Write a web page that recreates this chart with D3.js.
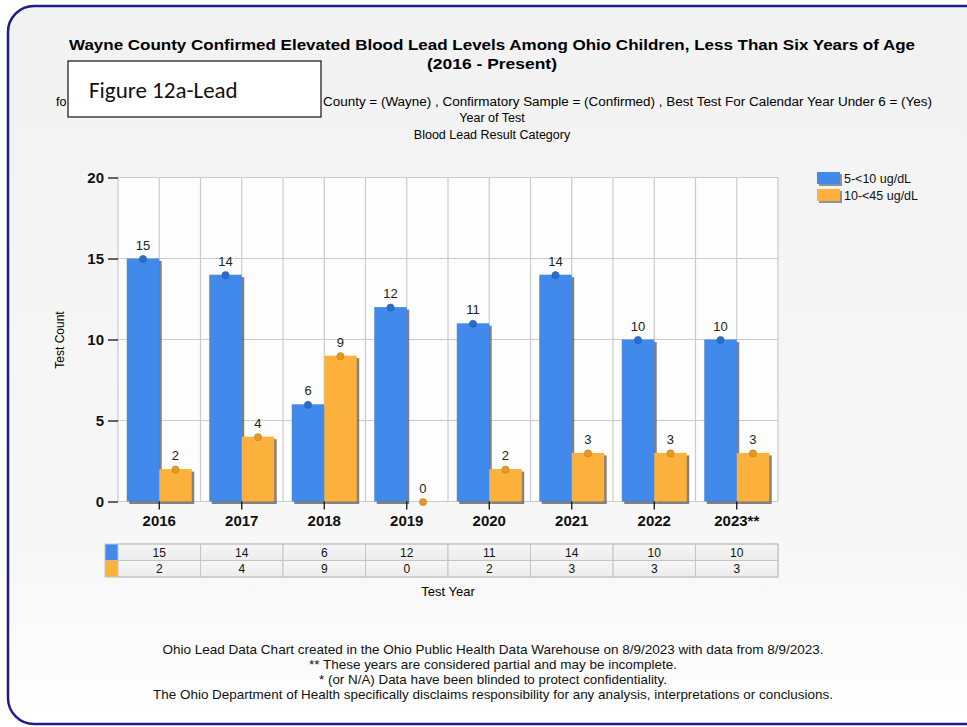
<!DOCTYPE html>
<html><head><meta charset="utf-8">
<script src="https://cdn.jsdelivr.net/npm/d3@7"></script>
<style>body{margin:0;background:#fff;} svg{display:block;font-family:"Liberation Sans",Arial,sans-serif;}</style>
</head><body>
<svg id="c" width="967" height="727"></svg>
<script>
const years = ["2016","2017","2018","2019","2020","2021","2022","2023**"];
const seriesNames = ["5-<10 ug/dL","10-<45 ug/dL"];
const low = [15,14,6,12,11,14,10,10];
const high = [2,4,9,0,2,3,3,3];
const yTicks = [0,5,10,15,20];
const colors = ["#4189ea","#fbb13c"];
const dotColors = ["#2c6bc9","#e39a25"];

const svg = d3.select("#c");
const defs = svg.append("defs");
const bg = defs.append("linearGradient").attr("id","bg").attr("x1",0).attr("y1",0).attr("x2",0).attr("y2",1);
bg.append("stop").attr("offset","0").attr("stop-color","#f2f2f2");
bg.append("stop").attr("offset","0.8").attr("stop-color","#f8f8f8");
bg.append("stop").attr("offset","1").attr("stop-color","#ffffff");
const cell = defs.append("linearGradient").attr("id","cell").attr("x1",0).attr("y1",0).attr("x2",0).attr("y2",1);
cell.append("stop").attr("offset","0").attr("stop-color","#f7f7f7");
cell.append("stop").attr("offset","1").attr("stop-color","#ececec");

// frame
svg.append("rect").attr("x",8).attr("y",6).attr("width",1000).attr("height",718).attr("rx",26)
  .attr("fill","url(#bg)").attr("stroke","#1c1c8a").attr("stroke-width",2.5);

// titles
svg.append("text").attr("x",492).attr("y",50).attr("text-anchor","middle").attr("font-weight","bold")
  .attr("font-size",15.5).attr("textLength",846).attr("lengthAdjust","spacingAndGlyphs")
  .text("Wayne County Confirmed Elevated Blood Lead Levels Among Ohio Children, Less Than Six Years of Age");
svg.append("text").attr("x",492).attr("y",69).attr("text-anchor","middle").attr("font-weight","bold")
  .attr("font-size",15.5).attr("textLength",130).attr("lengthAdjust","spacingAndGlyphs").text("(2016 - Present)");
svg.append("text").attr("x",56).attr("y",106).attr("font-size",12.5).text("fo");
svg.append("text").attr("x",323).attr("y",106).attr("font-size",12.5)
  .attr("textLength",609).attr("lengthAdjust","spacingAndGlyphs")
  .text("County = (Wayne) , Confirmatory Sample = (Confirmed) , Best Test For Calendar Year Under 6 = (Yes)");
svg.append("text").attr("x",492).attr("y",122).attr("text-anchor","middle").attr("font-size",12.5).text("Year of Test");
svg.append("text").attr("x",492).attr("y",139).attr("text-anchor","middle").attr("font-size",12.5).text("Blood Lead Result Category");

// plot
const x0 = 118, x1 = 778, yTop = 177.5, yBot = 501.5;
const x = d3.scaleBand().domain(years).range([x0,x1]).paddingInner(0).paddingOuter(0);
const xs = d3.scaleBand().domain([0,1]).range([0,x.bandwidth()]).paddingOuter(0.27).paddingInner(0);
const y = d3.scaleLinear().domain([0,20]).range([yBot,yTop]);

svg.append("rect").attr("x",x0).attr("y",yTop).attr("width",x1-x0).attr("height",yBot-yTop).attr("fill","#fdfdfd");
const grid = svg.append("g").attr("stroke","#cacaca").attr("stroke-width",1.2);
yTicks.forEach(t=>grid.append("line").attr("x1",x0).attr("x2",x1).attr("y1",y(t)).attr("y2",y(t)));
years.forEach(yr=>{
  const a = x(yr);
  grid.append("line").attr("x1",a).attr("x2",a).attr("y1",yTop).attr("y2",yBot);
  grid.append("line").attr("x1",a+x.bandwidth()/2).attr("x2",a+x.bandwidth()/2).attr("y1",yTop).attr("y2",yBot);
});
grid.append("line").attr("x1",x1).attr("x2",x1).attr("y1",yTop).attr("y2",yBot);

// y axis
const yAxis = d3.axisLeft(y).tickValues(yTicks).tickSize(10).tickPadding(4);
const ya = svg.append("g").attr("transform",`translate(${x0},0)`).call(yAxis);
ya.select(".domain").remove();
ya.selectAll("text").attr("font-size",15).attr("font-weight","bold").attr("fill","#111").attr("font-family","Liberation Sans, Arial");
ya.selectAll("line").attr("stroke","#111").attr("stroke-width",1.3);
svg.append("text").attr("transform","translate(64,340) rotate(-90)").attr("text-anchor","middle")
  .attr("font-size",12).text("Test Count");

// bars
const data = [low, high];
data.forEach((vals,si)=>{
  const g = svg.append("g");
  years.forEach((yr,i)=>{
    const v = vals[i];
    const bx = x(yr)+xs(si), bw = xs.bandwidth();
    if (v>0){
      g.append("rect").attr("x",bx+2.5).attr("y",y(v)+2.5).attr("width",bw).attr("height",yBot-y(v))
        .attr("fill","#5a5a5a").attr("opacity",0.75);
      g.append("rect").attr("x",bx).attr("y",y(v)).attr("width",bw).attr("height",yBot-y(v))
        .attr("fill",colors[si]);
    }
    const cx = bx+bw/2;
    g.append("circle").attr("cx",cx).attr("cy",y(v)+0.5).attr("r",3.6).attr("fill",dotColors[si])
      .attr("stroke",d3.color(dotColors[si]).darker(0.5)).attr("stroke-width",0.6);
    g.append("text").attr("x",cx).attr("y",y(v)-9).attr("text-anchor","middle").attr("font-size",13)
      .attr("fill","#222").text(v);
  });
});

// x axis
const xAxis = d3.axisBottom(x).tickSize(8).tickPadding(6);
const xa = svg.append("g").attr("transform",`translate(0,${yBot})`).call(xAxis);
xa.select(".domain").remove();
xa.selectAll("line").attr("stroke","#111").attr("stroke-width",1.3);
xa.selectAll("text").attr("font-size",15).attr("font-weight","bold").attr("fill","#111").attr("font-family","Liberation Sans, Arial");

// legend
const lg = svg.append("g");
seriesNames.forEach((n,i)=>{
  const ly = 172 + i*17;
  lg.append("rect").attr("x",819).attr("y",ly+2).attr("width",23).attr("height",12).attr("fill","#666").attr("opacity",0.7);
  lg.append("rect").attr("x",817).attr("y",ly).attr("width",23).attr("height",12).attr("fill",colors[i]);
  lg.append("text").attr("x",844).attr("y",ly+11).attr("font-size",12.5).attr("fill","#111").text(n);
});

// data table
const tTop = 544, rowH = 16.5;
const tb = svg.append("g");
data.forEach((vals,si)=>{
  const ry = tTop + si*rowH;
  tb.append("rect").attr("x",105).attr("y",ry).attr("width",13).attr("height",rowH).attr("fill",colors[si]);
  years.forEach((yr,i)=>{
    tb.append("rect").attr("x",x(yr)).attr("y",ry).attr("width",x.bandwidth()).attr("height",rowH)
      .attr("fill","url(#cell)").attr("stroke","#c4c4c4").attr("stroke-width",1);
    tb.append("text").attr("x",x(yr)+x.bandwidth()/2).attr("y",ry+12.5).attr("text-anchor","middle")
      .attr("font-size",12).attr("fill","#111").text(vals[i]);
  });
});
tb.append("rect").attr("x",105).attr("y",tTop).attr("width",x1-105).attr("height",rowH*2)
  .attr("fill","none").attr("stroke","#c4c4c4");
svg.append("text").attr("x",448).attr("y",596).attr("text-anchor","middle").attr("font-size",13).text("Test Year");

// footer
const foot = [
  ["Ohio Lead Data Chart created in the Ohio Public Health Data Warehouse on 8/9/2023 with data from 8/9/2023.",661],
  ["** These years are considered partial and may be incomplete.",368],
  ["* (or N/A) Data have been blinded to protect confidentiality.",348],
  ["The Ohio Department of Health specifically disclaims responsibility for any analysis, interpretations or conclusions.",680]
];
foot.forEach((f,i)=>{
  svg.append("text").attr("x",493).attr("y",654+i*15).attr("text-anchor","middle").attr("font-size",13).attr("fill","#111")
    .attr("textLength",f[1]).attr("lengthAdjust","spacingAndGlyphs").text(f[0]);
});

// figure label box
svg.append("rect").attr("x",68).attr("y",61).attr("width",253).attr("height",56).attr("fill","#fff").attr("stroke","#111").attr("stroke-width",1.2);
svg.append("text").attr("x",89).attr("y",98).attr("font-size",23).attr("font-family","Carlito, 'Open Sans', sans-serif").attr("fill","#111").text("Figure 12a-Lead");
</script>
</body></html>
